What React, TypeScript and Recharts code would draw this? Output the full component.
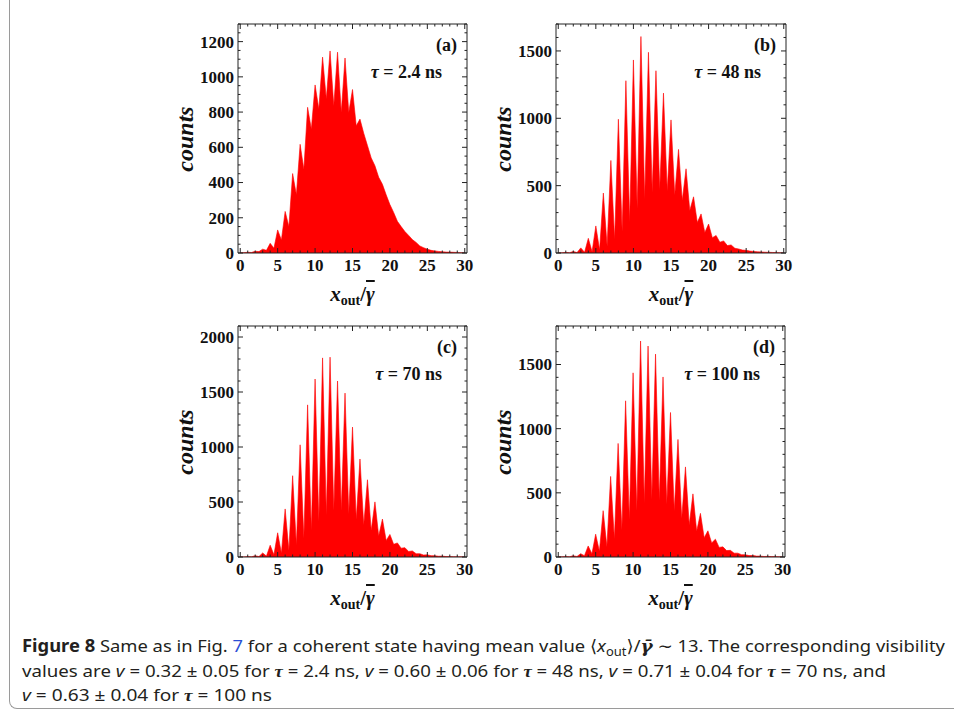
import React from 'react';
import { AreaChart, Area, XAxis, YAxis, ReferenceArea } from 'recharts';

// bin positions: peaks sit on the integers, valleys halfway between them
const peakPositions = [0, 1, 2, 3, 4, 5, 6, 7, 8, 9, 10, 11, 12, 13, 14, 15, 16, 17, 18, 19, 20, 21, 22, 23, 24, 25, 26, 27, 28, 29, 30];

// (a) tau = 2.4 ns
const peaksA = [2, 4, 10, 22, 55, 131, 236, 451, 617, 827, 954, 1112, 1147, 1140, 1107, 928, 760, 610, 495, 390, 275, 180, 122, 76, 40, 22, 12, 7, 5, 3, 2];
const valleysA = [2, 3, 8, 15, 27, 74, 150, 330, 474, 703, 817, 874, 836, 798, 798, 722, 680, 540, 430, 330, 230, 150, 100, 60, 30, 15, 9, 5, 4, 2];

// (b) tau = 48 ns
const peaksB = [2, 5, 12, 38, 109, 201, 445, 687, 993, 1279, 1433, 1607, 1490, 1353, 1187, 988, 769, 625, 417, 290, 215, 130, 90, 60, 30, 20, 12, 8, 5, 3, 2];
const valleysB = [1, 2, 3, 5, 10, 22, 50, 100, 160, 230, 330, 400, 450, 470, 460, 430, 390, 316, 227, 152, 114, 80, 55, 35, 22, 14, 9, 6, 4, 2];

// (c) tau = 70 ns
const peaksC = [2, 4, 12, 37, 107, 220, 437, 739, 1020, 1383, 1618, 1810, 1817, 1600, 1490, 1181, 891, 702, 501, 345, 205, 128, 85, 55, 30, 20, 12, 8, 5, 3, 2];
const valleysC = [1, 2, 4, 8, 20, 35, 60, 110, 170, 240, 320, 380, 420, 420, 390, 340, 290, 240, 190, 150, 115, 80, 50, 30, 18, 12, 7, 4, 3, 2];

// (d) tau = 100 ns
const peaksD = [2, 4, 10, 26, 86, 178, 361, 628, 885, 1217, 1435, 1683, 1644, 1581, 1403, 1126, 916, 702, 492, 340, 204, 139, 79, 52, 30, 18, 12, 7, 5, 3, 2];
const valleysD = [1, 2, 4, 10, 25, 45, 80, 140, 210, 290, 360, 420, 450, 440, 410, 360, 300, 250, 200, 150, 110, 75, 50, 30, 18, 11, 7, 4, 3, 2];

const xMajor = [0, 5, 10, 15, 20, 25, 30];
const yMajorA = [0, 200, 400, 600, 800, 1000, 1200];
const yMajorB = [0, 500, 1000, 1500];
const yMajorC = [0, 500, 1000, 1500, 2000];
const yMajorD = [0, 500, 1000, 1500];

const RED = '#ff0000';
const FRAME = '#222';
const PAD_L = 70;
const PAD_T = 10;
const PAD_R = 10;
const PAD_B = 42;

const serif = '"Liberation Serif", serif';
const tickFont = { fontFamily: serif, fontWeight: 700, fontSize: 17, fill: '#111' };

function buildSeries(peaks: number[], valleys: number[]) {
  const rows: { x: number; counts: number }[] = [];
  peakPositions.forEach((p, i) => {
    rows.push({ x: p, counts: peaks[i] });
    if (i < valleys.length) rows.push({ x: p + 0.5, counts: valleys[i] });
  });
  return rows;
}

interface PanelProps {
  plotLeft: number;
  plotTop: number;
  plotW: number;
  plotH: number;
  data: { x: number; counts: number }[];
  yMax: number;
  yMajor: number[];
  yMinorStep: number;
  letter: string;
  tau: string;
}

const Panel = ({ plotLeft, plotTop, plotW, plotH, data, yMax, yMajor, yMinorStep, letter, tau }: PanelProps) => {
  const width = plotW + PAD_L + PAD_R;
  const height = plotH + PAD_T + PAD_B;
  const plotRight = PAD_L + plotW;
  const yTicks: number[] = [];
  for (let v = 0; v <= yMax; v += yMinorStep) yTicks.push(v);

  const xTick = (props: any) => {
    const { x, y, payload } = props;
    const major = xMajor.includes(payload.value);
    const len = major ? 5 : 2.5;
    return (
      <g>
        <line x1={x} x2={x} y1={y} y2={y - len} stroke={FRAME} />
        <line x1={x} x2={x} y1={PAD_T} y2={PAD_T + len} stroke={FRAME} />
        {major && (
          <text x={x} y={y + 18} textAnchor="middle" style={tickFont}>
            {payload.value}
          </text>
        )}
      </g>
    );
  };

  const yTick = (props: any) => {
    const { x, y, payload } = props;
    const major = yMajor.includes(payload.value);
    const len = major ? 5 : 2.5;
    return (
      <g>
        <line x1={x} x2={x + len} y1={y} y2={y} stroke={FRAME} />
        <line x1={plotRight} x2={plotRight - len} y1={y} y2={y} stroke={FRAME} />
        {major && (
          <text x={x - 4} y={y} dy="0.35em" textAnchor="end" style={tickFont}>
            {payload.value}
          </text>
        )}
      </g>
    );
  };

  return (
    <>
      <div style={{ position: 'absolute', left: plotLeft - PAD_L, top: plotTop - PAD_T }}>
        <AreaChart width={width} height={height} data={data} margin={{ top: PAD_T, right: PAD_R, bottom: 0, left: 0 }}>
          <XAxis
            type="number"
            dataKey="x"
            domain={[-0.3, 30.3]}
            ticks={peakPositions}
            interval={0}
            tickSize={0}
            tickMargin={0}
            tickLine={false}
            axisLine={false}
            height={PAD_B}
            tick={xTick}
            allowDataOverflow
          />
          <YAxis
            type="number"
            domain={[0, yMax]}
            ticks={yTicks}
            interval={0}
            tickSize={0}
            tickMargin={0}
            tickLine={false}
            axisLine={false}
            width={PAD_L}
            tick={yTick}
            allowDataOverflow
          />
          <Area
            type="linear"
            dataKey="counts"
            stroke={RED}
            strokeWidth={0.6}
            fill={RED}
            fillOpacity={1}
            dot={false}
            activeDot={false}
            isAnimationActive={false}
          />
          <ReferenceArea x1={-0.3} x2={30.3} y1={0} y2={yMax} fill="none" stroke={FRAME} strokeWidth={1} ifOverflow="visible" />
        </AreaChart>
      </div>
      <div style={{ position: 'absolute', left: plotLeft + plotW - 50, width: 40, top: plotTop + 10, textAlign: 'right', fontFamily: serif, fontWeight: 700, fontSize: 18, color: '#111', lineHeight: '22px' }}>
        ({letter})
      </div>
      <div style={{ position: 'absolute', left: plotLeft + 60, width: plotW - 60 - 25, top: plotTop + 37, textAlign: 'right', fontFamily: serif, fontWeight: 700, fontSize: 18, color: '#111', lineHeight: '22px', whiteSpace: 'nowrap' }}>
        <i>τ</i> = {tau} ns
      </div>
      <div style={{ position: 'absolute', left: plotLeft - 53 - 50, top: plotTop + plotH / 2 - 15, width: 100, textAlign: 'center', transform: 'rotate(-90deg)', fontFamily: serif, fontWeight: 700, fontStyle: 'italic', fontSize: 24, color: '#111', lineHeight: '30px' }}>
        counts
      </div>
      <div style={{ position: 'absolute', left: plotLeft + plotW / 2 - 60, width: 120, top: plotTop + plotH + 28, textAlign: 'center', fontFamily: serif, fontWeight: 700, fontSize: 21, color: '#111', lineHeight: '26px', whiteSpace: 'nowrap' }}>
        <i>x</i>
        <span style={{ fontSize: 14, verticalAlign: -4 }}>out</span>/<i style={{ textDecoration: 'overline' }}>γ</i>
      </div>
    </>
  );
};

const captionFont = '"Noto Sans", "DejaVu Sans", sans-serif';
const tauMath = (
  <tspan fontFamily={serif} fontStyle="italic" fontWeight={700}>
    τ
  </tspan>
);

export default function App() {
  return (
    <div style={{ position: 'absolute', left: 0, top: 0, width: 954, height: 715, background: '#fff', overflow: 'hidden' }}>
      <div style={{ position: 'absolute', left: 9, top: -20, width: 980, height: 728, borderLeft: '1px solid #9a9a9a', borderBottom: '1px solid #9a9a9a', borderBottomLeftRadius: 8 }} />
      <Panel plotLeft={238} plotTop={24} plotW={229} plotH={229} data={buildSeries(peaksA, valleysA)} yMax={1300} yMajor={yMajorA} yMinorStep={50} letter="a" tau="2.4" />
      <Panel plotLeft={556} plotTop={24} plotW={230} plotH={229} data={buildSeries(peaksB, valleysB)} yMax={1700} yMajor={yMajorB} yMinorStep={100} letter="b" tau="48" />
      <Panel plotLeft={238} plotTop={326} plotW={229} plotH={231} data={buildSeries(peaksC, valleysC)} yMax={2100} yMajor={yMajorC} yMinorStep={100} letter="c" tau="70" />
      <Panel plotLeft={556} plotTop={326} plotW={229} plotH={231} data={buildSeries(peaksD, valleysD)} yMax={1800} yMajor={yMajorD} yMinorStep={100} letter="d" tau="100" />
      <svg style={{ position: 'absolute', left: 0, top: 625 }} width={954} height={85}>
        <g fontFamily={captionFont} fontSize={17} fill="#231f20">
          <text x={22} y={27} textLength={923} lengthAdjust="spacingAndGlyphs">
            <tspan fontWeight={700}>Figure 8</tspan>
            {'  Same as in Fig. '}
            <tspan fill="#2a4fd6">7</tspan>
            {' for a coherent state having mean value ⟨'}
            <tspan fontStyle="italic">x</tspan>
            <tspan fontSize={12} dy={4}>out</tspan>
            <tspan dy={-4}>{'⟩/'}</tspan>
            <tspan fontFamily='"DejaVu Serif", serif' fontStyle="italic" fontWeight={700}>γ̄</tspan>
            {' ∼ 13. The corresponding visibility'}
          </text>
          <text x={22} y={52} textLength={864} lengthAdjust="spacingAndGlyphs">
            {'values are '}
            <tspan fontStyle="italic">v</tspan>
            {' = 0.32 ± 0.05 for '}
            {tauMath}
            {' = 2.4 ns, '}
            <tspan fontStyle="italic">v</tspan>
            {' = 0.60 ± 0.06 for '}
            {tauMath}
            {' = 48 ns, '}
            <tspan fontStyle="italic">v</tspan>
            {' = 0.71 ± 0.04 for '}
            {tauMath}
            {' = 70 ns, and'}
          </text>
          <text x={22} y={76} textLength={250} lengthAdjust="spacingAndGlyphs">
            <tspan fontStyle="italic">v</tspan>
            {' = 0.63 ± 0.04 for '}
            {tauMath}
            {' = 100 ns'}
          </text>
        </g>
      </svg>
    </div>
  );
}
